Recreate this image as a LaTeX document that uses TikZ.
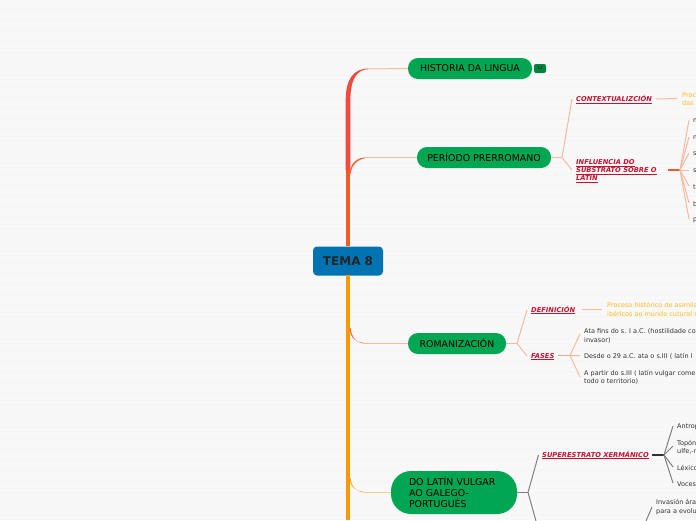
\documentclass[tikz,border=0pt]{standalone}
\usepackage{fontspec}
\setmainfont{DejaVu Sans}
\definecolor{bgc}{HTML}{F8F8F8}
\definecolor{bandc}{HTML}{F6F6F6}
\definecolor{greenc}{HTML}{00A651}
\definecolor{bluec}{HTML}{0073B3}
\definecolor{redsp}{HTML}{F4493C}
\definecolor{orgsp}{HTML}{F15A22}
\definecolor{ambsp}{HTML}{FF9800}
\definecolor{salm}{HTML}{F9B8A0}
\definecolor{labelr}{HTML}{C8102E}
\definecolor{yellowt}{HTML}{FFBA20}
\definecolor{darkt}{HTML}{333333}
\definecolor{greyl}{HTML}{808080}
\tikzset{
 x=1pt,y=-1pt,
 spine/.style={line width=4.5pt},
 topic/.style={fill=greenc,rounded corners=10pt,inner sep=0pt,text=black,font=\fontsize{9.4}{11}\selectfont},
 thin1/.style={draw=salm,line width=1pt},
 thing/.style={draw=greyl,line width=1pt},
 lab/.style={anchor=west,inner sep=0pt,yshift=-2.5pt,text=labelr,font=\fontsize{6.7}{8}\selectfont\bfseries\itshape,align=left},
 body/.style={anchor=west,inner sep=0pt,yshift=-1pt,text=darkt,font=\fontsize{6.5}{8.2}\selectfont,align=left},
 note/.style={anchor=west,inner sep=0pt,yshift=-.5pt,text=yellowt,font=\fontsize{6.5}{8.2}\selectfont,align=left},
}
\newcommand{\ul}[1]{\smash{\underline{#1}}}
\newcommand{\dn}[1]{\raisebox{-.7pt}{#1}}
\begin{document}
\begin{tikzpicture}
\useasboundingbox (0,0) rectangle (696,520);
\clip (0,0) rectangle (696,520);
\fill[bgc] (0,0) rectangle (696,520);
\foreach \yy in {8,19,...,519} \fill[bandc] (0,\yy) rectangle (696,\yy+1.5);
% coordinates
\coordinate (cN) at (348,246);
\coordinate (cS) at (348,275);
\coordinate (sA) at (348,170);
\coordinate (sB) at (348,520);
% nodes
\node[topic,minimum width=124pt,minimum height=21pt] (h) at (470,68.5) {\dn{HISTORIA DA LINGUA}};
\node[fill=greenc!80!black,rounded corners=2pt,minimum width=12pt,minimum height=9pt,inner sep=0pt,text=black,font=\fontsize{4}{4}\selectfont] (badge) at (540,68.5) {12};
\node[topic,minimum width=134pt,minimum height=21pt] (p) at (484,157.5) {\dn{PERÍODO PRERROMANO}};
\node[topic,minimum width=98pt,minimum height=21pt] (r) at (457,343.5) {\dn{ROMANIZACIÓN}};
\node[topic,rounded corners=20pt,minimum width=126pt,minimum height=43pt,align=left,text width=90pt] (d) at (454,492.5) {DO LATÍN VULGAR\\AO GALEGO-\\PORTUGUÉS};
\node[fill=bluec,rounded corners=4pt,minimum width=70pt,minimum height=29pt,inner sep=0pt,text=black!85,font=\fontsize{12}{14}\selectfont\bfseries] (t) at (348,261) {\raisebox{-1pt}{TEMA 8}};
% spines with tapered branches
\fill[redsp] (345.7,170) -- (345.7,100) .. controls (345.7,80) and (353,68.7) .. (368,68.7) -- (368,69.3) .. controls (356,69.8) and (350.3,80) .. (350.3,102) -- (350.3,170) -- cycle;
\draw[salm,line width=1pt] (364,69) -- (h.west);
\draw[orgsp,spine] (cN) -- (sA);
\fill[orgsp!85!salm] (349.5,174) .. controls (350,164) and (356,157.1) .. (368,157.1) -- (368,157.9) .. controls (358,158.2) and (351.5,165) .. (350.6,174) -- cycle;
\draw[salm,line width=1pt] (364,157.5) -- (p.west);
\draw[ambsp,spine] (cS) -- (sB);
\fill[orgsp!85!salm] (349.5,328) .. controls (350,338) and (356,343.1) .. (368,343.1) -- (368,343.9) .. controls (358,343.9) and (351.5,339) .. (350.6,328) -- cycle;
\draw[salm,line width=1pt] (364,343.5) -- (r.west);
\fill[ambsp!85!white] (349.5,478) .. controls (350,487) and (356,492.1) .. (368,492.1) -- (368,492.9) .. controls (358,492.9) and (351.5,488) .. (350.6,478) -- cycle;
\draw[ambsp!45!white,line width=1pt] (364,492.5) -- (d.west);
% periodo
\coordinate (j1) at (562,157.5);
\draw[thin1] (p.east) -- (j1);
\node[lab] (c1) at (576,99) {\ul{CONTEXTUALIZCIÓN}};
\node[lab] (c2) at (576,170) {\ul{INFLUENCIA DO}\\\ul{SUBSTRATO SOBRE O}\\\ul{LATÍN}};
\coordinate (e1) at (572,99); \coordinate (e2) at (572,170);
\draw[thin1] (e1) -- (j1) -- (e2);
\node[note] (n1) at (682,99) {Proc\\das};
\coordinate (n1a) at (656,99); \coordinate (n1b) at (677,98.5);
\draw[thin1] (n1a) -- (n1b);
\coordinate (j2) at (680,170);
\coordinate (j2a) at (668,170);
\draw[orgsp,line width=1.2pt] (j2a) -- (j2);
\foreach \yy/\tt in {120/m,137/m,153/s,170/s,186/t,203/b,219/p}{
  \draw[thin1] (j2) -- (689,\yy);
  \node[body] at (693,\yy) {\tt};
}
% romanizacion
\coordinate (j3) at (517,343.5);
\draw[thin1] (r.east) -- (j3);
\node[lab] (c3) at (531,309.5) {\ul{DEFINICIÓN}};
\node[lab] (c4) at (531,355.5) {\ul{FASES}};
\coordinate (e3) at (527,310); \coordinate (e4) at (527,356);
\draw[thin1] (e3) -- (j3) -- (e4);
\coordinate (n2a) at (582,309.5); \coordinate (n2b) at (602,309.5);
\draw[thin1] (n2a) -- (n2b);
\node[note] (n2) at (607,309) {Proceso histórico de asimila\\ibéricos ao mundo cutural r};
\coordinate (j4) at (570,355.5); \coordinate (j4a) at (558,355.5);
\draw[salm!80!orgsp,line width=1.2pt] (j4a) -- (j4);
\coordinate (f1) at (580,334); \coordinate (f2) at (580,355.5); \coordinate (f3) at (580,377);
\draw[thin1] (f1) -- (j4) -- (f2) (j4) -- (f3);
\node[body] (b1) at (584,335) {Ata fins do s. I a.C. (hostilidade co\\invasor)};
\node[body] (b2) at (584,355.5) {Desde o 29 a.C. ata o s.III ( latín l};
\node[body] (b3) at (584,376) {A partir do s.III ( latín vulgar come\\todo o territorio)};
% do latin
\coordinate (j5) at (528,492.5);
\draw[thing] (d.east) -- (j5);
\coordinate (e5) at (538.5,455); \coordinate (e6) at (536,521);
\draw[thing] (e5) -- (j5) -- (e6);
\node[lab] (c5) at (542,454.5) {\ul{SUPERESTRATO XERMÁNICO}};
\coordinate (j6) at (664,455); \coordinate (j6a) at (652,455);
\draw[black!80,line width=1.2pt] (j6a) -- (j6);
\foreach \yy in {426,446,467,483} \draw[thing] (j6) -- (673,\yy);
\node[body] (g1) at (677,426) {Antrop};
\node[body] (g2) at (677,446) {Topón\\ulfe,-r};
\node[body] (g3) at (677,467) {Léxico};
\node[body] (g4) at (677,483) {Voces};
\coordinate (k1) at (652,507); \coordinate (k2) at (646,521);
\draw[thing] (k1) -- (k2);
\node[body] (g5) at (656,506) {Invasión ára\\para a evolu};
\end{tikzpicture}
\end{document}
